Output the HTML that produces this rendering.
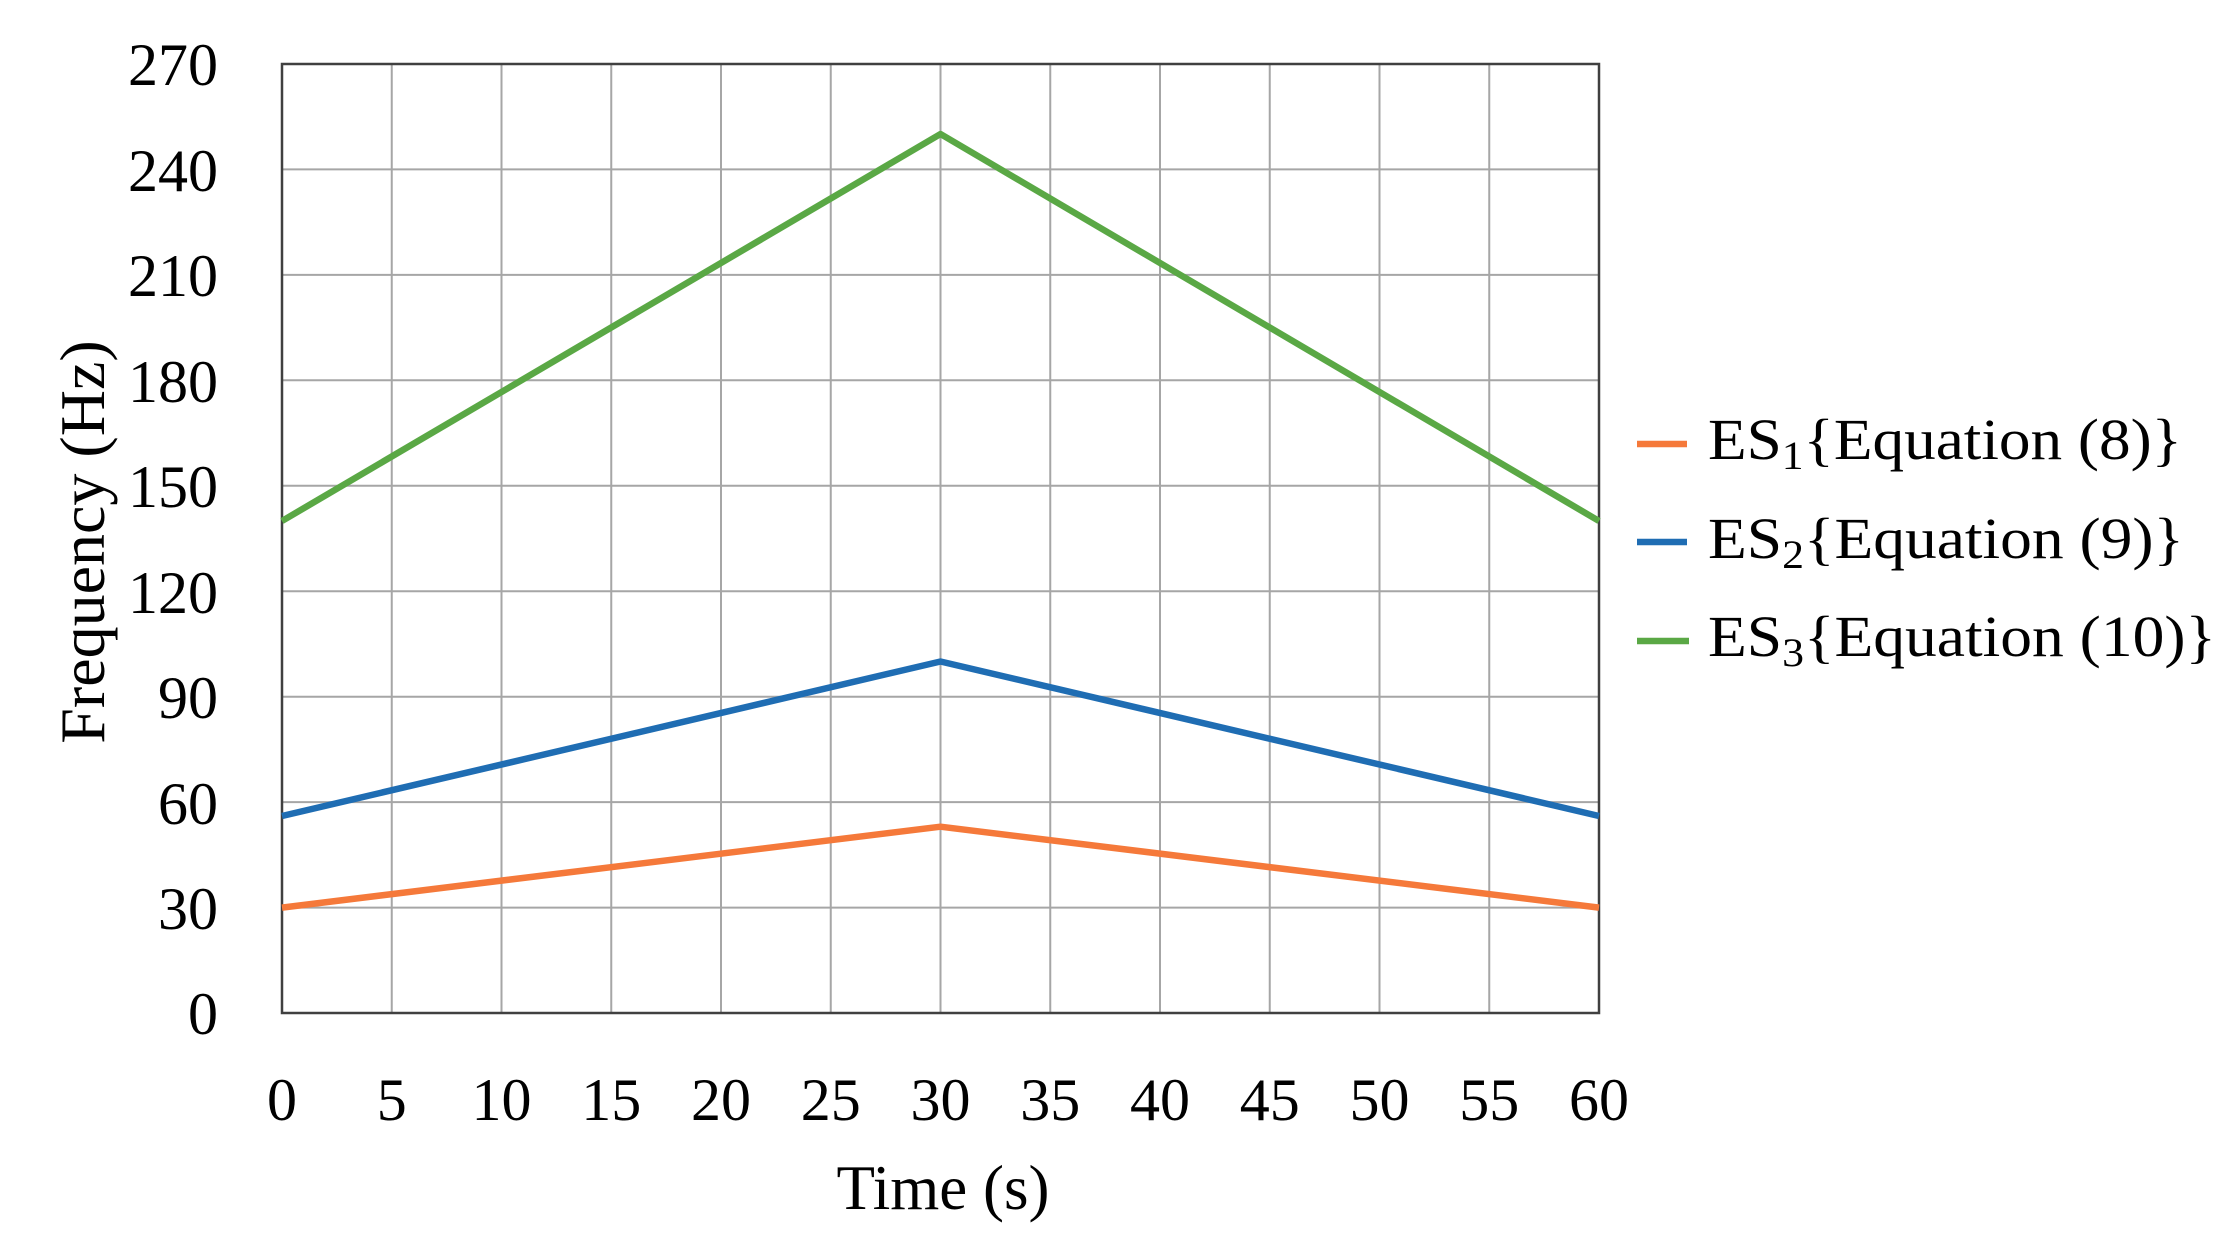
<!DOCTYPE html>
<html><head><meta charset="utf-8"><style>html,body{margin:0;padding:0;background:#fff}svg{display:block}</style></head>
<body>
<svg width="2237" height="1251" viewBox="0 0 2237 1251" xmlns="http://www.w3.org/2000/svg" font-family="Liberation Serif, serif" fill="#000">
<g stroke="#a6a6a6" stroke-width="2">
<line x1="391.75" y1="64" x2="391.75" y2="1013"/><line x1="501.5" y1="64" x2="501.5" y2="1013"/><line x1="611.25" y1="64" x2="611.25" y2="1013"/><line x1="721" y1="64" x2="721" y2="1013"/><line x1="830.75" y1="64" x2="830.75" y2="1013"/><line x1="940.5" y1="64" x2="940.5" y2="1013"/><line x1="1050.25" y1="64" x2="1050.25" y2="1013"/><line x1="1160" y1="64" x2="1160" y2="1013"/><line x1="1269.75" y1="64" x2="1269.75" y2="1013"/><line x1="1379.5" y1="64" x2="1379.5" y2="1013"/><line x1="1489.25" y1="64" x2="1489.25" y2="1013"/>
<line x1="282" y1="169.4" x2="1599" y2="169.4"/><line x1="282" y1="274.9" x2="1599" y2="274.9"/><line x1="282" y1="380.3" x2="1599" y2="380.3"/><line x1="282" y1="485.8" x2="1599" y2="485.8"/><line x1="282" y1="591.2" x2="1599" y2="591.2"/><line x1="282" y1="696.7" x2="1599" y2="696.7"/><line x1="282" y1="802.1" x2="1599" y2="802.1"/><line x1="282" y1="907.6" x2="1599" y2="907.6"/>
</g>
<rect x="282" y="64" width="1317" height="949" fill="none" stroke="#404040" stroke-width="2.5"/>
<g fill="none" stroke-width="6.5" stroke-linejoin="round">
<polyline points="282,521 940.5,134 1599,521" stroke="#5aa845"/>
<polyline points="282,816 940.5,661.5 1599,816" stroke="#1f6db3"/>
<polyline points="282,907.6 940.5,826.7 1599,907.6" stroke="#f5793a"/>
</g>
<g font-size="60" text-anchor="end">
<text x="218" y="85">270</text><text x="218" y="191">240</text><text x="218" y="296">210</text><text x="218" y="402">180</text><text x="218" y="507">150</text><text x="218" y="613">120</text><text x="218" y="718">90</text><text x="218" y="824">60</text><text x="218" y="929">30</text><text x="218" y="1034">0</text>
</g>
<g font-size="60" text-anchor="middle">
<text x="282" y="1120">0</text><text x="391.75" y="1120">5</text><text x="501.5" y="1120">10</text><text x="611.25" y="1120">15</text><text x="721" y="1120">20</text><text x="830.75" y="1120">25</text><text x="940.5" y="1120">30</text><text x="1050.25" y="1120">35</text><text x="1160" y="1120">40</text><text x="1269.75" y="1120">45</text><text x="1379.5" y="1120">50</text><text x="1489.25" y="1120">55</text><text x="1599" y="1120">60</text>
<text x="943" y="1209" font-size="63">Time (s)</text>
<text transform="translate(104,542) rotate(-90)" font-size="64">Frequency (Hz)</text>
</g>
<g stroke-width="6.5">
<line x1="1637" y1="444" x2="1687" y2="444" stroke="#f5793a"/>
<line x1="1637" y1="542" x2="1687" y2="542" stroke="#1f6db3"/>
<line x1="1637" y1="641" x2="1689" y2="641" stroke="#5aa845"/>
</g>
<g font-size="58">
<text x="1708" y="459" textLength="474" lengthAdjust="spacingAndGlyphs">ES<tspan font-size="40" dy="10">1</tspan><tspan dy="-10">{Equation (8)}</tspan></text>
<text x="1708" y="558" textLength="476" lengthAdjust="spacingAndGlyphs">ES<tspan font-size="40" dy="10">2</tspan><tspan dy="-10">{Equation (9)}</tspan></text>
<text x="1708" y="656" textLength="508" lengthAdjust="spacingAndGlyphs">ES<tspan font-size="40" dy="10">3</tspan><tspan dy="-10">{Equation (10)}</tspan></text>
</g>
</svg>
</body></html>
